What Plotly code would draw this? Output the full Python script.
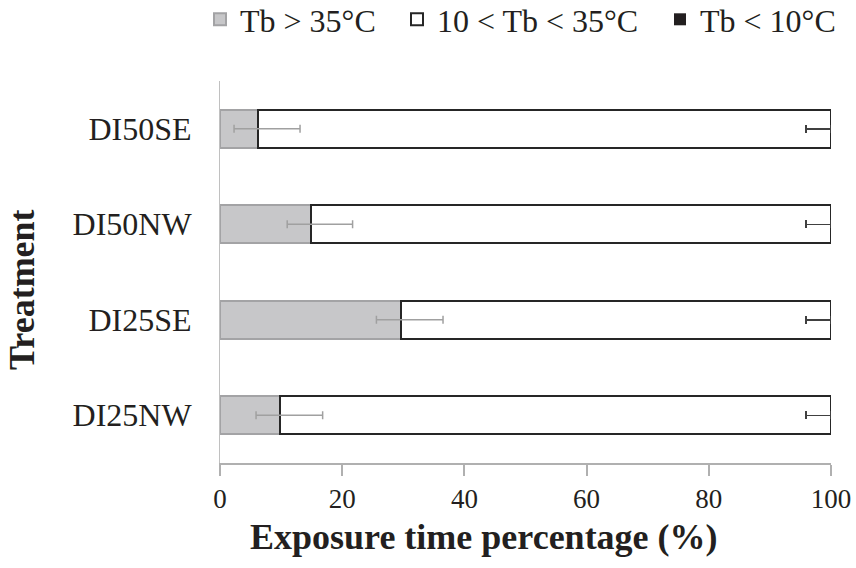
import plotly.graph_objects as go

categories = ["DI25NW", "DI25SE", "DI50NW", "DI50SE"]
hot = [9.9, 29.7, 14.9, 6.2]
hot_err_minus = [4.0, 4.1, 3.9, 3.9]
hot_err_plus = [6.9, 6.8, 6.8, 6.9]
mid = [90.1, 70.3, 85.1, 93.8]
mid_err_minus = [4.1, 4.1, 4.1, 4.1]
mid_err_plus = [0, 0, 0, 0]
cold = [0, 0, 0, 0]
x_ticks = [0, 20, 40, 60, 80, 100]

FONT = "Liberation Serif"

fig = go.Figure()
fig.add_trace(go.Bar(
    y=categories, x=hot, orientation="h", name="Tb > 35\u00b0C", legend="legend",
    marker=dict(color="#c7c7c9", line=dict(color="#a3a3a5", width=2)),
))
fig.add_trace(go.Bar(
    y=categories, x=mid, orientation="h", name="10 < Tb < 35\u00b0C", legend="legend2",
    marker=dict(color="#ffffff", line=dict(color="#262626", width=2)),
    error_x=dict(type="data", symmetric=False, array=mid_err_plus, arrayminus=mid_err_minus,
                 color="#404040", thickness=1.5, width=4),
))
fig.add_trace(go.Bar(
    y=categories, x=cold, orientation="h", name="Tb < 10\u00b0C", legend="legend3",
    marker=dict(color="#231f20", line=dict(color="#231f20", width=0)),
))
# error bars of the Tb > 35 segment, drawn above the stacked bars
fig.add_trace(go.Scatter(
    y=categories, x=hot, mode="markers", marker=dict(opacity=0, size=1),
    showlegend=False, hoverinfo="skip",
    error_x=dict(type="data", symmetric=False, array=hot_err_plus, arrayminus=hot_err_minus,
                 color="#a0a0a0", thickness=1.5, width=4),
))

PL, PT, PB, PW = 220, 81, 463, 611
PH = PB - PT


def px_x(p):
    return (p - PL) / PW


def px_y(p):
    return (PB - p) / PH


def leg(x0):
    return dict(orientation="h", x=px_x(x0), xanchor="left", y=px_y(-8), yanchor="top",
                font=dict(family=FONT, size=32), itemwidth=30, bgcolor="rgba(0,0,0,0)")


fig.update_layout(
    width=856, height=568,
    barmode="stack", bargap=0.6,
    plot_bgcolor="white", paper_bgcolor="white",
    margin=dict(l=PL, r=856 - PL - PW, t=PT, b=568 - PB, autoexpand=False),
    font=dict(family=FONT, size=26, color="#231f20"),
    legend=leg(200), legend2=leg(397), legend3=leg(660),
    xaxis=dict(range=[0, 100], tickvals=x_ticks, showgrid=False, zeroline=False,
               showline=True, linecolor="#b0b0b0", linewidth=1.5,
               ticks="outside", ticklen=11, tickcolor="#b0b0b0", tickwidth=1.5,
               tickfont=dict(family=FONT, size=27)),
    yaxis=dict(showgrid=False, zeroline=False, showline=True, linecolor="#c0c0c0",
               linewidth=1, ticks="", ticklabelstandoff=21,
               tickfont=dict(family=FONT, size=32)),
    annotations=[
        dict(text="<b>Exposure time percentage (%)</b>", xref="paper", yref="paper",
             x=px_x(484), y=px_y(537), xanchor="center", yanchor="middle",
             showarrow=False, font=dict(family=FONT, size=36)),
        dict(text="<b>Treatment</b>", xref="paper", yref="paper",
             x=px_x(22), y=px_y(290), xanchor="center", yanchor="middle",
             textangle=-90, showarrow=False, font=dict(family=FONT, size=36)),
    ],
)

fig.write_html("out.html")
